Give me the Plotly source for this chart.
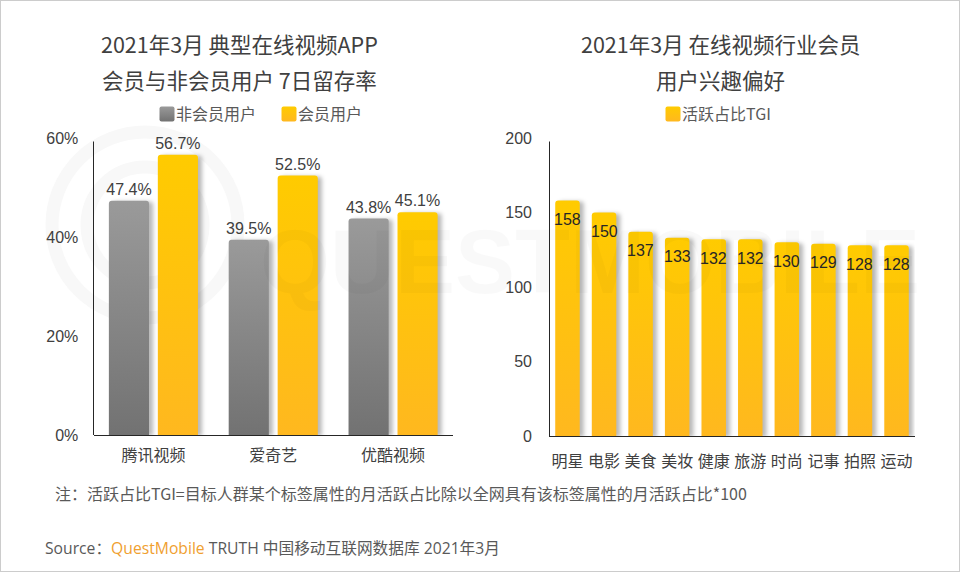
import plotly.graph_objects as go

W, H = 960, 572

apps = ["腾讯视频", "爱奇艺", "优酷视频"]
non_member = [47.4, 39.5, 43.8]
member = [56.7, 52.5, 45.1]
pct_ticks = [0, 20, 40, 60]
pct_labels = ["0%", "20%", "40%", "60%"]

interests = ["明星", "电影", "美食", "美妆", "健康", "旅游", "时尚", "记事", "拍照", "运动"]
tgi = [158, 150, 137, 133, 132, 132, 130, 129, 128, 128]
tgi_ticks = [0, 50, 100, 150, 200]

left_title = ["2021年3月 典型在线视频APP", "会员与非会员用户 7日留存率"]
right_title = ["2021年3月 在线视频行业会员", "用户兴趣偏好"]
note = "注：活跃占比TGI=目标人群某个标签属性的月活跃占比除以全网具有该标签属性的月活跃占比*100"

CJK = "Noto Sans CJK SC, sans-serif"
ARIAL = "Liberation Sans, Noto Sans CJK SC, sans-serif"


def px_x(x):
    return x / W


def px_y(y):
    return 1 - y / H


def text(x, y, s, size, color="#404040", family=CJK, anchor="center"):
    return dict(xref="paper", yref="paper", x=px_x(x), y=px_y(y), text=s, showarrow=False,
                xanchor=anchor, yanchor="middle", font=dict(size=size, color=color, family=family))


def ring(cx, cy, r, width):
    return dict(type="circle", xref="paper", yref="paper", layer="below",
                x0=px_x(cx - r), x1=px_x(cx + r), y0=px_y(cy + r), y1=px_y(cy - r),
                line=dict(color="#f8f8f8", width=width))


def axis_line(x, y0, y1):
    return dict(type="line", xref="paper", yref="paper", x0=px_x(x), x1=px_x(x),
                y0=px_y(y0), y1=px_y(y1), line=dict(color="#262626", width=1))


fig = go.Figure()
fig.add_trace(go.Bar(x=apps, y=non_member, name="非会员用户", marker_color="#8a8a8a",
                     text=[f"{v}%" for v in non_member], textposition="outside", cliponaxis=False,
                     constraintext="none",
                     textfont=dict(size=16, color="#404040", family=ARIAL), xaxis="x", yaxis="y"))
fig.add_trace(go.Bar(x=apps, y=member, name="会员用户", marker_color="#ffc20c",
                     text=[f"{v}%" for v in member], textposition="outside", cliponaxis=False,
                     constraintext="none",
                     textfont=dict(size=16, color="#404040", family=ARIAL), xaxis="x", yaxis="y"))
fig.add_trace(go.Bar(x=interests, y=tgi, name="活跃占比TGI", marker_color="#ffc20c",
                     xaxis="x2", yaxis="y2", legend="legend2"))

annotations = [
    # watermark first, very faint so it barely shows over the bars
    text(590, 262, "<b>QUESTMOBILE</b>", 90, color="rgba(0,0,0,0.024)", family="Liberation Sans"),
    text(239, 43, left_title[0], 21.5),
    text(239, 79, left_title[1], 21.5),
    text(720, 43, right_title[0], 21.5),
    text(720, 79, right_title[1], 21.5),
    text(53, 493, note, 16, color="#595959", anchor="left"),
    text(43, 548, 'Source：<span style="color:#f0a030">QuestMobile</span> TRUTH 中国移动互联网数据库 2021年3月',
         15.7, color="#595959", family="Open Sans, Noto Sans CJK SC, sans-serif", anchor="left"),
]
for name, value in zip(interests, tgi):
    annotations.append(dict(xref="x2", yref="y2", x=name, y=value, yshift=-19, text=str(value), showarrow=False,
                            font=dict(size=16, color="#262626", family="Liberation Sans")))

axis_font = dict(size=16, color="#404040", family=ARIAL)
fig.update_layout(
    template="none",
    width=W, height=H, margin=dict(l=0, r=0, t=0, b=0, pad=0), autosize=False,
    paper_bgcolor="white", plot_bgcolor="rgba(0,0,0,0)",
    barmode="group", bargap=0.183, bargroupgap=0.18, barcornerradius=3,
    hovermode=False,
    xaxis=dict(domain=[px_x(93.5), px_x(453)], anchor="y", automargin=False, showline=True,
               linecolor="#262626", linewidth=1,
               ticks="outside", ticklen=6, tickcolor="rgba(0,0,0,0)", tickfont=axis_font, showgrid=False),
    yaxis=dict(domain=[px_y(435), px_y(138.5)], anchor="x", automargin=False, range=[0, 60],
               tickvals=pct_ticks, ticktext=pct_labels,
               ticks="outside", ticklen=11, tickcolor="rgba(0,0,0,0)", tickfont=axis_font,
               showgrid=False, zeroline=False),
    xaxis2=dict(domain=[px_x(549.2), px_x(914.8)], anchor="y2", automargin=False, showline=True,
                linecolor="#262626", linewidth=1,
                ticks="outside", ticklen=11, tickcolor="rgba(0,0,0,0)", tickangle=0, tickfont=axis_font,
                showgrid=False),
    yaxis2=dict(domain=[px_y(436), px_y(138)], anchor="x2", automargin=False, range=[0, 200], tickvals=tgi_ticks,
                ticks="outside", ticklen=13, tickcolor="rgba(0,0,0,0)", tickfont=axis_font,
                showgrid=False, zeroline=False),
    legend=dict(orientation="h", x=px_x(136), y=px_y(114), xanchor="left", yanchor="middle",
                entrywidthmode="pixels", entrywidth=77, itemclick=False, itemdoubleclick=False,
                font=dict(size=16, color="#595959", family=CJK), bgcolor="rgba(0,0,0,0)"),
    legend2=dict(orientation="h", x=px_x(642), y=px_y(114), xanchor="left", yanchor="middle",
                 itemclick=False, itemdoubleclick=False,
                 font=dict(size=16, color="#595959", family=CJK), bgcolor="rgba(0,0,0,0)"),
    annotations=annotations,
    shapes=[
        ring(145, 225, 93, 13),
        ring(145, 225, 58, 13),
        axis_line(93.5, 141.5, 435),
        axis_line(549.5, 141.5, 436),
        dict(type="rect", xref="paper", yref="paper", x0=0, x1=1, y0=0, y1=1,
             line=dict(color="#cccccc", width=2)),
    ],
)

# plotly bars only take flat fills, so the gradients and shadows go on after drawing
post_script = """
document.body.style.margin = '0';
var svg = document.querySelector('.main-svg');
var ns = 'http://www.w3.org/2000/svg';
var defs = document.createElementNS(ns, 'defs');
function grad(id, top, bottom) {
  var g = document.createElementNS(ns, 'linearGradient');
  g.setAttribute('id', id);
  g.setAttribute('x1', '0'); g.setAttribute('y1', '0');
  g.setAttribute('x2', '0'); g.setAttribute('y2', '1');
  [[0, top], [1, bottom]].forEach(function (s) {
    var stop = document.createElementNS(ns, 'stop');
    stop.setAttribute('offset', s[0]);
    stop.setAttribute('stop-color', s[1]);
    g.appendChild(stop);
  });
  defs.appendChild(g);
}
grad('gradGray', '#9a9a9a', '#727272');
grad('gradGold', '#ffcb00', '#ffb81f');
svg.appendChild(defs);
var ids = ['gradGray', 'gradGold', 'gradGold'];
document.querySelectorAll('.barlayer .trace.bars').forEach(function (t, i) {
  t.querySelectorAll('.point path').forEach(function (p) {
    p.style.fill = 'url(#' + ids[i] + ')';
    p.style.filter = 'drop-shadow(4px 1px 2px rgba(0,0,0,0.28))';
  });
});
var k = 0;
document.querySelectorAll('.legend .traces, .legend2 .traces').forEach(function (t) {
  var p = t.querySelector('.legendpoints path');
  if (!p) { return; }
  p.setAttribute('d', 'M-5.5,-7.5H5.5A2,2 0 0 1 7.5,-5.5V5.5A2,2 0 0 1 5.5,7.5H-5.5A2,2 0 0 1 -7.5,5.5V-5.5A2,2 0 0 1 -5.5,-7.5Z');
  p.setAttribute('transform', 'translate(31,0)');
  p.style.fill = 'url(#' + ids[k] + ')';
  k += 1;
});
"""

fig.write_html("out.html", post_script=post_script, config={"displayModeBar": False})
